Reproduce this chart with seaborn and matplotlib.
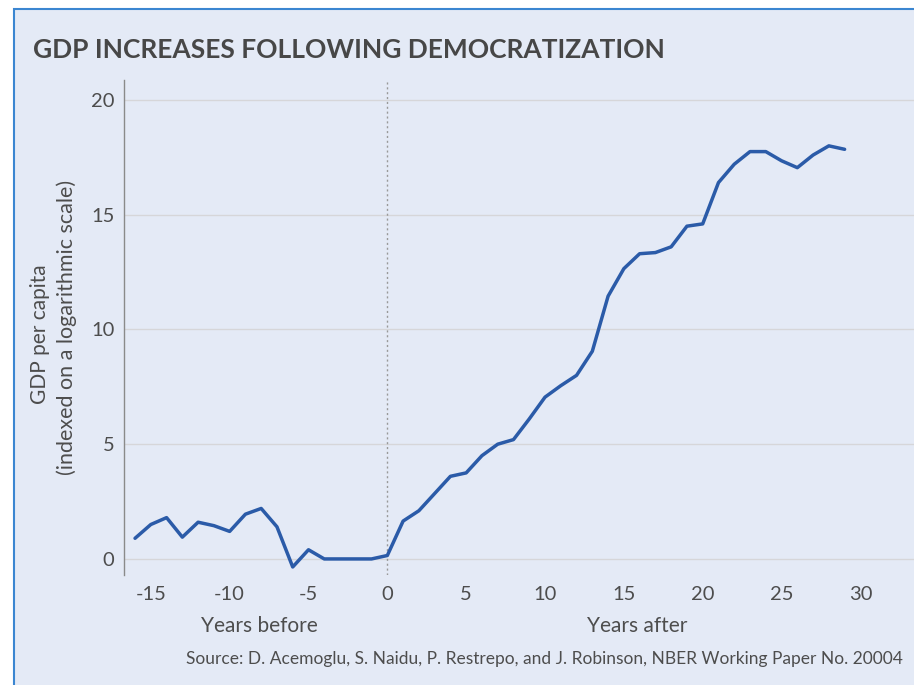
import seaborn as sns
import matplotlib.pyplot as plt
import pandas as pd

# GDP per capita path around democratization
years = list(range(-16, 30))
gdp = [0.9, 1.5, 1.8, 0.95, 1.6, 1.45, 1.2, 1.95, 2.2, 1.4,
       -0.35, 0.4, 0.0, 0.0, 0.0, 0.0, 0.15, 1.65, 2.1, 2.85,
       3.6, 3.75, 4.5, 5.0, 5.2, 6.1, 7.05, 7.55, 8.0, 9.05,
       11.45, 12.65, 13.3, 13.35, 13.6, 14.5, 14.6, 16.4, 17.2, 17.75,
       17.75, 17.35, 17.05, 17.6, 18.0, 17.85]
x_ticks = [-15, -10, -5, 0, 5, 10, 15, 20, 25, 30]
y_ticks = [0, 5, 10, 15, 20]

df = pd.DataFrame({"year": years, "gdp": gdp})

bg = "#e4eaf6"
text_col = "#4d4d4d"
grid_col = "#d6d6d9"
line_col = "#2b5ba8"

sns.set_style("white", {"axes.facecolor": bg, "figure.facecolor": "white"})
plt.rcParams["font.family"] = ["Lato", "DejaVu Sans"]
plt.rcParams["axes.unicode_minus"] = False

fig = plt.figure(figsize=(9.14, 6.85), dpi=100)
# light blue panel with a blue border on top and left
fig.patches.append(plt.Rectangle((14 / 914, -0.1), 1, 1.1 - 9 / 685, transform=fig.transFigure,
                                 facecolor=bg, edgecolor="#3b86d1", linewidth=1.5, zorder=-5))

ax = fig.add_axes([124 / 914, 1 - 575 / 685, 1 - 124 / 914, 495 / 685])
ax.set_facecolor(bg)

for y in y_ticks:
    ax.axhline(y, color=grid_col, linewidth=1, zorder=1)
ax.axvline(0, color="#999999", linestyle=(0, (1.5, 2)), linewidth=1, zorder=1)

sns.lineplot(data=df, x="year", y="gdp", ax=ax, color=line_col, linewidth=2.5, zorder=3)

ax.set_xlim(-16.7, 33.4)
ax.set_ylim(-0.7, 20.87)
ax.set_xticks(x_ticks)
ax.set_yticks(y_ticks)
ax.tick_params(axis="x", length=0, pad=8, labelsize=14.5, labelcolor=text_col)
ax.tick_params(axis="y", length=6, color=grid_col, pad=1, labelsize=14.5, labelcolor=text_col)
ax.set_xlabel("")
ax.set_ylabel("")
for s in ["top", "right", "bottom"]:
    ax.spines[s].set_visible(False)
ax.spines["left"].set_color("#8a8a8a")
ax.spines["left"].set_linewidth(1)

fig.text(33 / 914, 1 - 50 / 685, "GDP INCREASES FOLLOWING DEMOCRATIZATION",
         fontsize=19, fontweight="bold", color="#474747", va="center", ha="left")
fig.text(40 / 914, 1 - 334 / 685, "GDP per capita", rotation=90,
         fontsize=15, color=text_col, va="center", ha="center")
fig.text(67 / 914, 1 - 327 / 685, "(indexed on a logarithmic scale)", rotation=90,
         fontsize=15.5, color=text_col, va="center", ha="center")
fig.text(259 / 914, 1 - 626 / 685, "Years before", fontsize=15,
         color=text_col, va="center", ha="center")
fig.text(637 / 914, 1 - 626 / 685, "Years after", fontsize=15,
         color=text_col, va="center", ha="center")
fig.text(903 / 914, 1 - 659 / 685,
         "Source: D. Acemoglu, S. Naidu, P. Restrepo, and J. Robinson, NBER Working Paper No. 20004",
         fontsize=12.5, color=text_col, va="center", ha="right")

fig.savefig("out.png", dpi=100)
